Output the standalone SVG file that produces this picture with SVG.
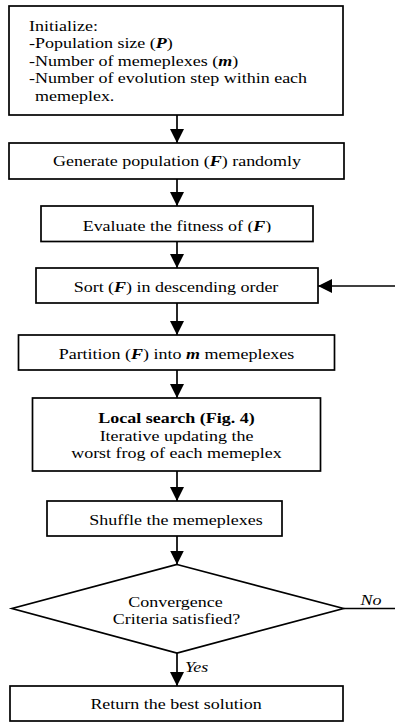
<svg xmlns="http://www.w3.org/2000/svg" width="395" height="722" viewBox="0 0 395 722">
<style>
.box{fill:#fff;stroke:#000;stroke-width:1.7}
.ln{fill:none;stroke:#000;stroke-width:1.7}
.t{font-family:"Liberation Serif","Times New Roman",serif;font-size:15px;fill:#000}
.c{text-anchor:middle}
.bi{font-weight:bold;font-style:italic}
.b{font-weight:bold}
.i{font-style:italic}
</style>
<defs>
<marker id="ah" markerUnits="userSpaceOnUse" markerWidth="14" markerHeight="14" refX="14" refY="7" orient="auto"><path d="M0,0 L14,7 L0,14 Z" fill="#000"/></marker>
<clipPath id="clipEval"><rect x="0" y="200" width="395" height="32.5"/></clipPath>
</defs>
<rect width="395" height="722" fill="#fff"/>
<g id="connectors">
<line class="ln" x1="177" y1="115" x2="177" y2="143" marker-end="url(#ah)"/>
<line class="ln" x1="177" y1="179" x2="177" y2="206" marker-end="url(#ah)"/>
<line class="ln" x1="177" y1="241.5" x2="177" y2="268" marker-end="url(#ah)"/>
<line class="ln" x1="395" y1="286" x2="318" y2="286" marker-end="url(#ah)"/>
<line class="ln" x1="177" y1="303" x2="177" y2="335" marker-end="url(#ah)"/>
<line class="ln" x1="177" y1="370" x2="177" y2="398" marker-end="url(#ah)"/>
<line class="ln" x1="177" y1="471" x2="177" y2="501" marker-end="url(#ah)"/>
<line class="ln" x1="177" y1="536" x2="177" y2="564.5" marker-end="url(#ah)"/>
<line class="ln" x1="343.5" y1="608.5" x2="395" y2="608.5"/>
<line class="ln" x1="177" y1="653" x2="177" y2="686" marker-end="url(#ah)"/>
<text class="t i" transform="translate(371 604.5) scale(1.2 1)" text-anchor="middle">No</text>
<text class="t i" transform="translate(185 671.5) scale(1.2 1)">Yes</text>
</g>
<g id="init">
<rect class="box" x="9" y="6" width="334" height="109"/>
<text class="t" transform="translate(29 30.5) scale(1.2 1)">Initialize:</text>
<text class="t" transform="translate(29 48) scale(1.2 1)">-Population size (<tspan class="bi">P</tspan>)</text>
<text class="t" transform="translate(29 65.5) scale(1.2 1)">-Number of memeplexes (<tspan class="bi">m</tspan>)</text>
<text class="t" transform="translate(29 83) scale(1.2 1)">-Number of evolution step within each</text>
<text class="t" transform="translate(35 100.5) scale(1.2 1)">memeplex.</text>
</g>
<g id="generate">
<rect class="box" x="9" y="143" width="335" height="36"/>
<text class="t c" transform="translate(177 166) scale(1.2 1)">Generate population (<tspan class="bi">F</tspan>) randomly</text>
</g>
<g id="evaluate">
<rect class="box" x="41" y="206" width="272" height="35.5"/>
<g clip-path="url(#clipEval)">
<text class="t c" transform="translate(177 231) scale(1.2 1)">Evaluate the fitness of (<tspan class="bi">F</tspan>)</text>
</g>
</g>
<g id="sort">
<rect class="box" x="36" y="268" width="282" height="35"/>
<text class="t c" transform="translate(176 292) scale(1.2 1)">Sort (<tspan class="bi">F</tspan>) in descending order</text>
</g>
<g id="partition">
<rect class="box" x="18.5" y="335" width="316" height="35"/>
<text class="t c" transform="translate(176.5 359) scale(1.2 1)">Partition (<tspan class="bi">F</tspan>) into <tspan class="bi">m</tspan> memeplexes</text>
</g>
<g id="local">
<rect class="box" x="32.5" y="398" width="288" height="73"/>
<text class="t c b" transform="translate(176.5 423) scale(1.2 1)">Local search (Fig. 4)</text>
<text class="t c" transform="translate(176.5 440.5) scale(1.2 1)">Iterative updating the</text>
<text class="t c" transform="translate(176.5 458) scale(1.2 1)">worst frog of each memeplex</text>
</g>
<g id="shuffle">
<rect class="box" x="47" y="501" width="235" height="35"/>
<text class="t c" transform="translate(176 524.5) scale(1.2 1)">Shuffle the memeplexes</text>
</g>
<g id="convergence">
<polygon class="box" points="177,564.5 343.5,608.5 177,653 12,608.5"/>
<text class="t c" transform="translate(175.5 606.5) scale(1.2 1)">Convergence</text>
<text class="t c" transform="translate(176.5 623.5) scale(1.2 1)">Criteria satisfied?</text>
</g>
<g id="return">
<rect class="box" x="10" y="686" width="333" height="35"/>
<text class="t c" transform="translate(176 708.5) scale(1.2 1)">Return the best solution</text>
</g>
</svg>
